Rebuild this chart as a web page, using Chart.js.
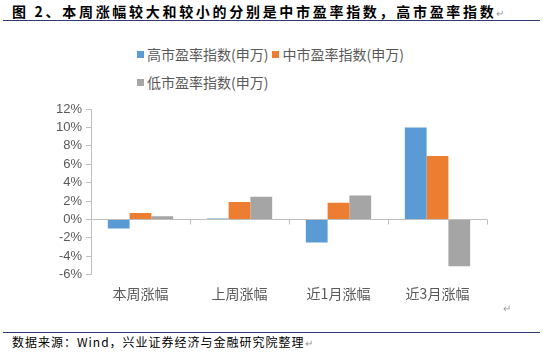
<!DOCTYPE html>
<html>
<head>
<meta charset="utf-8">
<script src="https://cdn.jsdelivr.net/npm/chart.js@4"></script>
<style>
  body { margin: 0; width: 543px; height: 352px; background: #fff; position: relative; overflow: hidden; font-family: "Noto Sans CJK SC", sans-serif; }
  #title { position: absolute; left: 12px; top: 1px; font-size: 14px; font-weight: bold; color: #000; letter-spacing: 2.7px; white-space: nowrap; font-family: "Noto Sans CJK SC", serif; }
  #topLine { position: absolute; left: 3px; right: 3px; top: 20px; height: 1px; background: #2f3a73; }
  #bottomLine { position: absolute; left: 3px; right: 3px; top: 332px; height: 1px; background: #2f3a73; }
  #source { position: absolute; left: 12px; top: 333px; font-size: 12px; color: #000; letter-spacing: 1px; white-space: nowrap; font-family: "Noto Sans CJK SC", serif; }
  .ret { color: #999; font-weight: normal; font-size: 10px; letter-spacing: 0; }
  #legend { position: absolute; left: 137px; top: 40px; font-size: 14px; color: #595959; line-height: 28px; }
  #legend span.sw { display: inline-block; width: 7px; height: 7px; margin-right: 3px; vertical-align: 2px; }
  #chartBox { position: absolute; left: 0; top: 95px; width: 543px; height: 215px; }
  #mark { position: absolute; left: 503px; top: 300px; }
</style>
</head>
<body>
<div id="title">图 2、本周涨幅较大和较小的分别是中市盈率指数，高市盈率指数<span class="ret">↵</span></div>
<div id="topLine"></div>
<div id="legend"></div>
<div id="chartBox"><canvas id="chart"></canvas></div>
<div id="mark" class="ret">↵</div>
<div id="bottomLine"></div>
<div id="source">数据来源：Wind，兴业证券经济与金融研究院整理<span class="ret">↵</span></div>
<script>
// 数据
const categories = ['本周涨幅', '上周涨幅', '近1月涨幅', '近3月涨幅'];
const seriesNames = ['高市盈率指数(申万)', '中市盈率指数(申万)', '低市盈率指数(申万)'];
const highPE = [-1.0, 0.1, -2.5, 10.0];
const midPE = [0.7, 1.9, 1.8, 6.9];
const lowPE = [0.35, 2.45, 2.6, -5.1];
const colors = ['#5b9bd5', '#ed7d31', '#a5a5a5'];

// 图例 (Excel 风格，左对齐换行)
const legendEl = document.getElementById('legend');
legendEl.innerHTML =
  `<span class="sw" style="background:${colors[0]}"></span>${seriesNames[0]}` +
  `<span class="sw" style="background:${colors[1]};margin-left:4px"></span>${seriesNames[1]}<br>` +
  `<span class="sw" style="background:${colors[2]}"></span>${seriesNames[2]}`;

// 零线和刻度
const zeroLinePlugin = {
  id: 'zeroLine',
  afterDatasetsDraw(chart) {
    const { ctx, scales: { x, y } } = chart;
    const y0 = Math.round(y.getPixelForValue(0)) + 0.5;
    ctx.save();
    ctx.strokeStyle = '#bfbfbf';
    ctx.lineWidth = 1;
    ctx.beginPath();
    ctx.moveTo(x.left, y0);
    ctx.lineTo(x.right, y0);
    const step = (x.right - x.left) / categories.length;
    for (let i = 0; i <= categories.length; i++) {
      const px = Math.round(x.left + step * i) + 0.5;
      ctx.moveTo(px, y0);
      ctx.lineTo(px, y0 + 5);
    }
    ctx.stroke();
    ctx.restore();
  }
};

new Chart(document.getElementById('chart'), {
  type: 'bar',
  data: {
    labels: categories,
    datasets: [
      { label: seriesNames[0], data: highPE, backgroundColor: colors[0] },
      { label: seriesNames[1], data: midPE, backgroundColor: colors[1] },
      { label: seriesNames[2], data: lowPE, backgroundColor: colors[2] }
    ]
  },
  options: {
    responsive: true,
    maintainAspectRatio: false,
    animation: false,
    layout: { padding: { top: 14, right: 56, bottom: 0, left: 0 } },
    datasets: { bar: { categoryPercentage: 0.66, barPercentage: 1 } },
    plugins: { legend: { display: false }, tooltip: { enabled: false } },
    scales: {
      x: {
        grid: { display: false, drawTicks: false },
        border: { display: false },
        ticks: { color: '#595959', font: { size: 14, family: '"Noto Sans CJK SC", sans-serif' }, padding: 11 },
        afterFit(scale) { scale.height = 35.4; }
      },
      y: {
        min: -6, max: 12,
        grid: { drawOnChartArea: false, color: '#bfbfbf', tickLength: 5 },
        border: { color: '#bfbfbf' },
        ticks: {
          stepSize: 2,
          autoSkip: false,
          color: '#595959',
          padding: 4,
          font: { size: 13, family: 'Arial, "Liberation Sans", sans-serif' },
          callback: v => v + '%'
        },
        afterFit(scale) { scale.width = 91; }
      }
    }
  },
  plugins: [zeroLinePlugin]
});
</script>
</body>
</html>
